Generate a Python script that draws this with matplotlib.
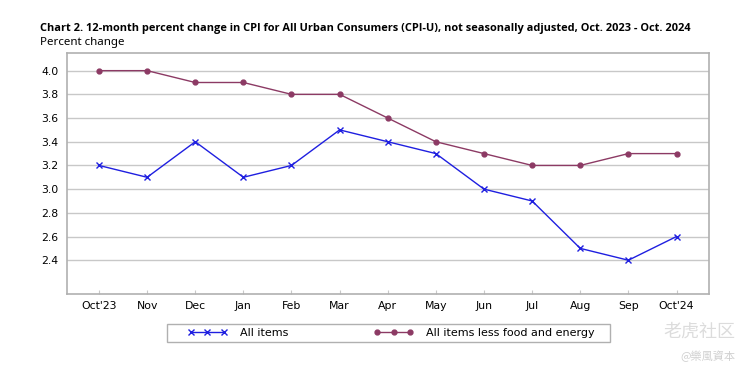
import numpy as np
import matplotlib
matplotlib.use('Agg')
import matplotlib.pyplot as plt
from matplotlib.patches import Rectangle

# dane z wykresu
months = ["Oct'23", "Nov", "Dec", "Jan", "Feb", "Mar", "Apr",
          "May", "Jun", "Jul", "Aug", "Sep", "Oct'24"]
all_items = [3.2, 3.1, 3.4, 3.1, 3.2, 3.5, 3.4, 3.3, 3.0, 2.9, 2.5, 2.4, 2.6]
core = [4.0, 4.0, 3.9, 3.9, 3.8, 3.8, 3.6, 3.4, 3.3, 3.2, 3.2, 3.3, 3.3]
yticks = [2.4, 2.6, 2.8, 3.0, 3.2, 3.4, 3.6, 3.8, 4.0]

plt.rcParams['font.family'] = ['DejaVu Sans', 'Noto Sans CJK SC']

fig = plt.figure(figsize=(7.5, 3.75), dpi=100)
ax = fig.add_axes([0.089, 0.216, 0.856, 0.643])

x = np.arange(len(months))
ax.plot(x, all_items, color='#1f1fe0', lw=1, marker='x', ms=5, mew=1,
        label='All items')
ax.plot(x, core, color='#8c3a64', lw=1, marker='o', ms=3.5,
        label='All items less food and energy')

ax.set_xlim(-0.67, 12.67)
ax.set_ylim(2.115, 4.15)
ax.set_xticks(x)
ax.set_xticklabels(months, fontsize=7.8)
ax.set_yticks(yticks)
ax.set_yticklabels(['%.1f' % v for v in yticks], fontsize=7.8)
ax.grid(axis='y', color='#c8c8c8', lw=1)
ax.set_axisbelow(True)
ax.tick_params(axis='x', direction='in', length=3, color='#c8c8c8', pad=5)
ax.tick_params(axis='y', length=0, pad=6)
for s in ax.spines.values():
    s.set_color('#b0b0b0')
    s.set_linewidth(1.2)

fig.text(0.053, 0.925, 'Chart 2. 12-month percent change in CPI for All Urban Consumers (CPI-U), '
         'not seasonally adjusted, Oct. 2023 - Oct. 2024',
         fontsize=7.95, fontweight='bold', va='center', family='Open Sans')
fig.text(0.053, 0.888, 'Percent change', fontsize=8.3, va='center', family='Noto Sans')

# ramka legendy
fig.patches.append(Rectangle((167 / 750, 1 - 342 / 375), 443 / 750, 18 / 375,
                             transform=fig.transFigure, fill=False,
                             edgecolor='#b0b0b0', lw=1))
leg = fig.legend(loc='center', bbox_to_anchor=(0.522, 0.112),
                 ncol=2, numpoints=3, handlelength=3.5,
                 fontsize=8, frameon=False, borderpad=0,
                 handletextpad=1.2, columnspacing=7.7, borderaxespad=0)

# znak wodny
fig.text(0.98, 0.115, '老虎社区', fontsize=13, color='#dcdcdc', ha='right', va='center',
         family=['Noto Sans CJK SC', 'DejaVu Sans'])
fig.text(0.98, 0.05, '@樂風資本', fontsize=8, color='#d0d0d0', ha='right', va='center',
         family=['Noto Sans CJK TC', 'DejaVu Sans'])

fig.savefig('out.png', dpi=100)
